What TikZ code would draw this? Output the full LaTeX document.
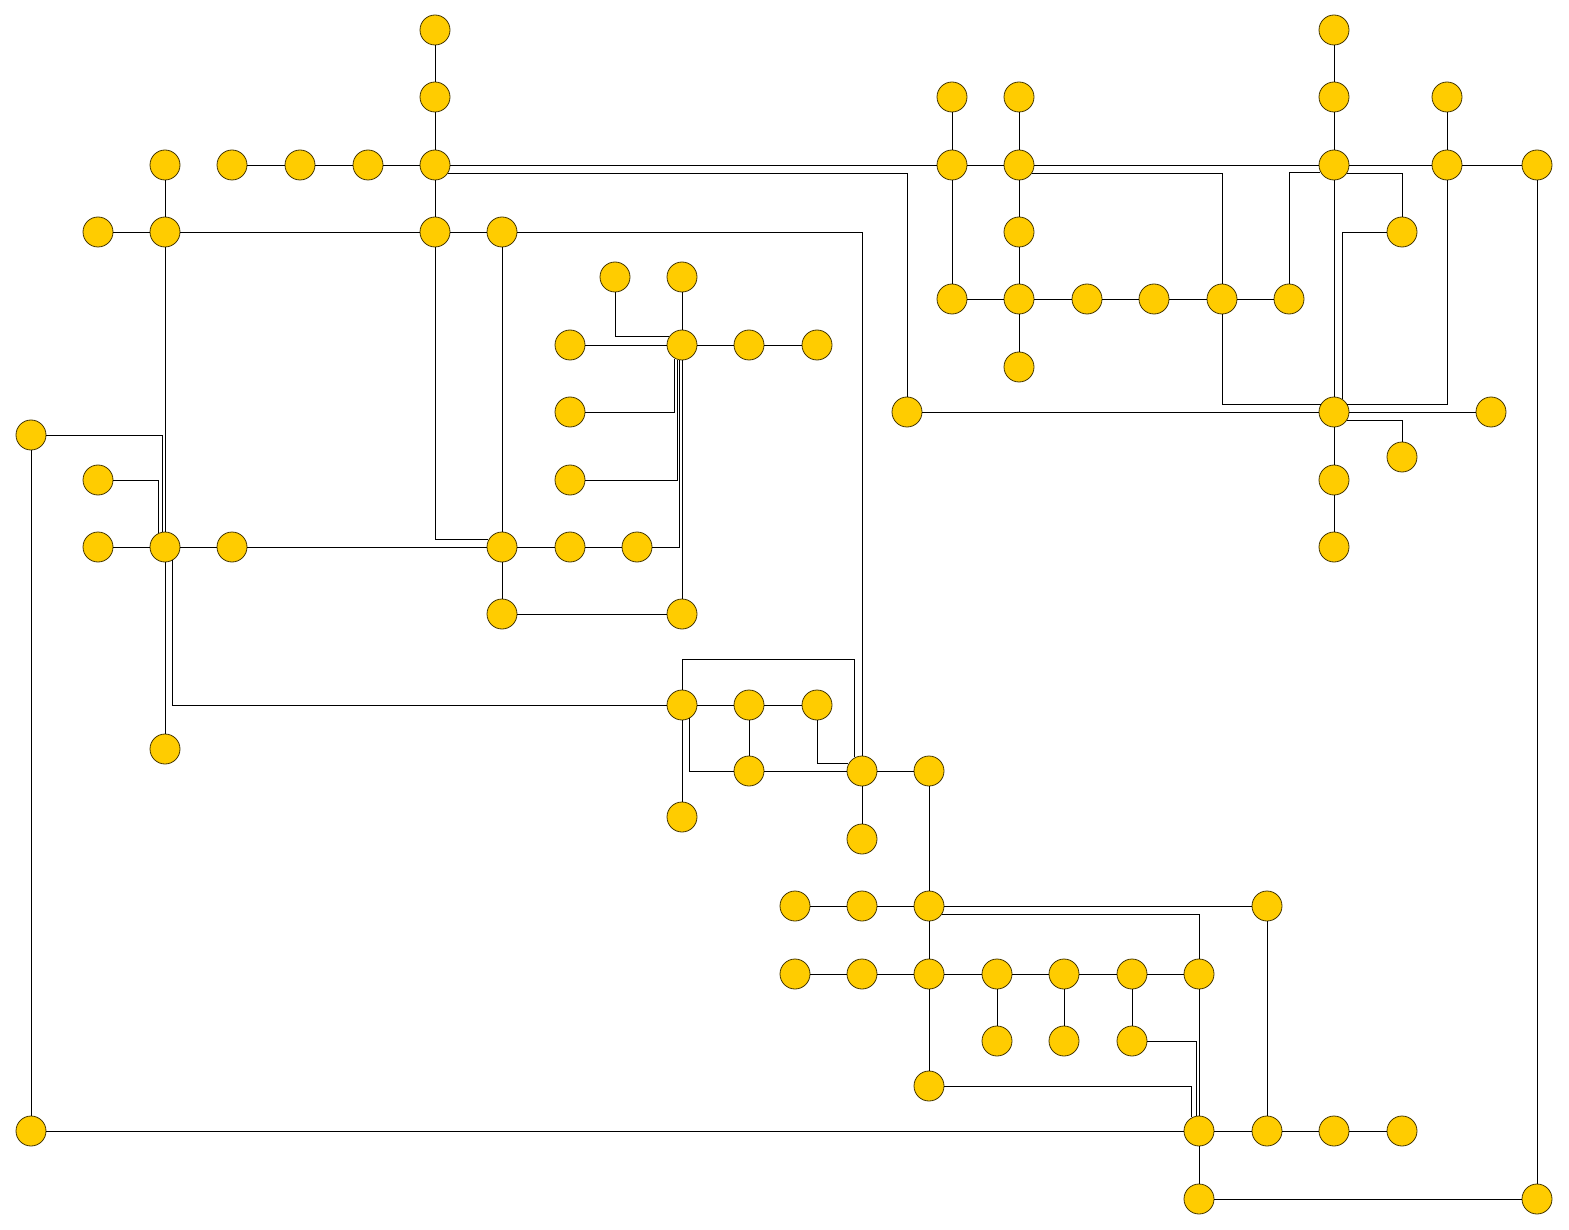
\documentclass[tikz,border=0pt]{standalone}
\definecolor{nodefill}{RGB}{255,204,0}
\definecolor{nodeline}{RGB}{70,55,0}
\begin{document}
\begin{tikzpicture}[x=1pt,y=-1pt,
  dot/.style={circle,minimum size=30pt,inner sep=0pt,fill=nodefill,draw=nodeline,line width=0.8pt},
  wire/.style={line width=0.9pt,black}]
\useasboundingbox (0,0) rectangle (1569,1230);
% nodes
\foreach \n/\x/\y in {a1/435/30,a2/435/97,a3/435/165,a4/368/165,a5/300/165,a6/232/165,
 b1/165/165,b2/165/232,b3/98/232,a7/435/232,a8/502/232,
 c1/31/435,c2/98/480,c3/98/547,c4/165/547,c5/232/547,c6/165/749,
 d1/502/547,d2/570/547,d3/637/547,d4/502/614,d5/682/614,
 e1/682/345,e2/615/277,e3/682/277,e4/570/345,e5/749/345,e6/817/345,e7/570/412,e8/570/480,
 f1/682/705,f2/749/705,f3/817/705,f4/749/771,f5/862/771,f6/929/771,f7/682/817,f8/862/839,
 g1/795/906,g2/862/906,g3/929/906,g4/1267/906,
 h1/795/974,h2/862/974,h3/929/974,h4/997/974,h5/1064/974,h6/1132/974,h7/1199/974,
 h8/997/1041,h9/1064/1041,h10/1132/1041,h11/929/1086,
 i1/31/1131,i2/1199/1131,i3/1267/1131,i4/1334/1131,i5/1402/1131,i6/1199/1199,i7/1537/1199,
 j1/952/97,j2/1019/97,j3/952/165,j4/1019/165,j5/1019/232,j6/952/299,j7/1019/299,
 j8/1087/299,j9/1154/299,j10/1222/299,j11/1289/299,j12/1019/367,
 k1/1334/30,k2/1334/97,k3/1334/165,k4/1447/97,k5/1447/165,k6/1537/165,k7/1402/232,
 l1/907/412,l2/1334/412,l3/1491/412,l4/1402/457,l5/1334/480,l6/1334/547}
 {\node[dot] (\n) at (\x,\y) {};}
\coordinate (f1top) at (682,659);
% straight edges
\foreach \u/\v in {a1/a2,a2/a3,a6/a5,a5/a4,a4/a3,a3/a7,a7/a8,b1/b2,b3/b2,b2/a7,
 a3/j3,j3/j4,j4/k3,k3/k5,k5/k6,a8/d1,b2/c4,c4/c6,c3/c4,c4/c5,c5/d1,c1/i1,i1/i2,
 d1/d2,d2/d3,d5/e1,d1/d4,d4/d5,e3/e1,e4/e1,e1/e5,e5/e6,
 f1/f2,f2/f3,f2/f4,f4/f5,f1/f7,f5/f6,f5/f8,f6/g3,
 g1/g2,g2/g3,g3/g4,g3/h3,g4/i3,
 h1/h2,h2/h3,h3/h4,h4/h5,h5/h6,h6/h7,h4/h8,h5/h9,h6/h10,h3/h11,h7/i2,
 i2/i3,i3/i4,i4/i5,i2/i6,i6/i7,i7/k6,
 j1/j3,j2/j4,j3/j6,j6/j7,j4/j5,j5/j7,j7/j12,j7/j8,j8/j9,j9/j10,j10/j11,
 k1/k2,k2/k3,k3/l2,k4/k5,l1/l2,l2/l3,l2/l5,l5/l6}
 {\draw[wire] (\u) -- (\v);}
% orthogonal edges
\draw[wire] (a3.-32) -| (l1);
\draw[wire] (a7) |- (d1.152);
\draw[wire] (a8) -| (f5);
\draw[wire] (c1) -| (c4.100);
\draw[wire] (c2) -| (c4.115);
\draw[wire] (c4.-60) |- (f1);
\draw[wire] (e7) -| (e1.-118);
\draw[wire] (e8) -| (e1.-106);
\draw[wire] (d3) -| (e1.-98);
\draw[wire] (e2) |- (e1.148);
\draw[wire] (f1) -- (f1top) -| (f5.118);
\draw[wire] (f3) |- (f5.152);
\draw[wire] (f1.-60) |- (f4);
\draw[wire] (g3.-32) -| (h7);
\draw[wire] (h11) -| (i2.118);
\draw[wire] (h10) -| (i2.98);
\draw[wire] (j4.-32) -| (j10);
\draw[wire] (j10) |- (l2.150);
\draw[wire] (j11) |- (k3.-152);
\draw[wire] (k3.-32) -| (k7);
\draw[wire] (k5) |- (l2.30);
\draw[wire] (k7) -| (l2.58);
\draw[wire] (l2.-32) -| (l4);
\end{tikzpicture}
\end{document}
